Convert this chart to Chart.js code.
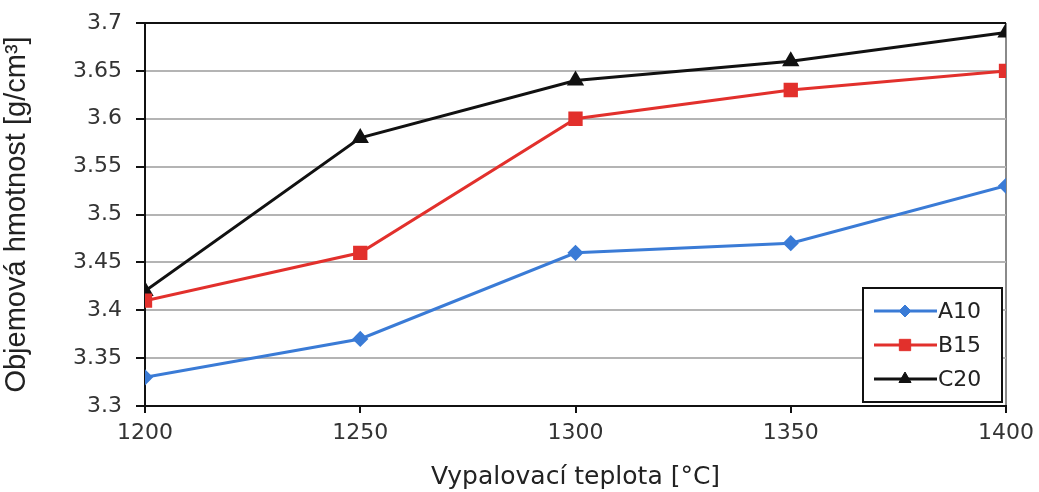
<!DOCTYPE html>
<html>
<head>
<meta charset="utf-8">
<script src="https://cdn.jsdelivr.net/npm/chart.js@4/dist/chart.umd.min.js"></script>
<style>
  html, body { margin: 0; padding: 0; background: #fff; }
  #wrap { width: 1039px; height: 492px; }
</style>
</head>
<body>
<div id="wrap"><canvas id="graf" width="1039" height="492"></canvas></div>
<script>
const teploty = [1200, 1250, 1300, 1350, 1400];
const a10 = [3.33, 3.37, 3.46, 3.47, 3.53];
const b15 = [3.41, 3.46, 3.60, 3.63, 3.65];
const c20 = [3.42, 3.58, 3.64, 3.66, 3.69];
const yTicky = [3.3, 3.35, 3.4, 3.45, 3.5, 3.55, 3.6, 3.65, 3.7];
const xTicky = [1200, 1250, 1300, 1350, 1400];

const FONT = "'Liberation Sans', Arial, sans-serif";
const FONT_SIROKY = "'DejaVu Sans', sans-serif";

function body(ys) {
  return teploty.map((t, i) => ({ x: t, y: ys[i] }));
}

// legenda v rámečku uvnitř grafu, vpravo dole
const legendaBox = {
  id: 'legendaBox',
  afterDraw(chart) {
    const ctx = chart.ctx;
    const x0 = 863, y0 = 288, w = 139, h = 114;
    ctx.save();
    ctx.fillStyle = '#fff';
    ctx.fillRect(x0, y0, w, h);
    ctx.strokeStyle = '#111';
    ctx.lineWidth = 2;
    ctx.strokeRect(x0, y0, w, h);
    chart.data.datasets.forEach((ds, i) => {
      const cy = y0 + 23 + i * 34;
      ctx.strokeStyle = ds.borderColor;
      ctx.lineWidth = 3;
      ctx.beginPath();
      ctx.moveTo(874, cy);
      ctx.lineTo(937, cy);
      ctx.stroke();
      ctx.fillStyle = ds.backgroundColor;
      ctx.strokeStyle = ds.borderColor;
      ctx.lineWidth = 1;
      Chart.helpers.drawPoint(ctx, {
        pointStyle: ds.pointStyle, radius: ds.pointRadius, rotation: 0, borderWidth: 1
      }, 905, cy);
      ctx.fillStyle = '#222';
      ctx.font = '22px ' + FONT_SIROKY;
      ctx.textBaseline = 'middle';
      ctx.fillText(ds.label, 938, cy + 1);
    });
    ctx.restore();
  }
};

new Chart(document.getElementById('graf'), {
  type: 'line',
  data: {
    datasets: [
      { label: 'A10', data: body(a10), borderColor: '#3a7bd6', backgroundColor: '#3a7bd6',
        borderWidth: 3, pointStyle: 'rectRot', pointRadius: 6 },
      { label: 'B15', data: body(b15), borderColor: '#e2302c', backgroundColor: '#e2302c',
        borderWidth: 3, pointStyle: 'rect', pointRadius: 8 },
      { label: 'C20', data: body(c20), borderColor: '#111111', backgroundColor: '#111111',
        borderWidth: 3, pointStyle: 'triangle', pointRadius: 7 }
    ]
  },
  options: {
    responsive: false,
    animation: false,
    layout: { padding: { left: 0, right: 33, top: 23, bottom: 0 } },
    plugins: {
      legend: { display: false },
      tooltip: { enabled: false }
    },
    scales: {
      x: {
        type: 'linear',
        min: 1200,
        max: 1400,
        afterBuildTicks: s => { s.ticks = xTicky.map(v => ({ value: v })); },
        afterFit: s => { s.height = 86; s.paddingLeft = 0; s.paddingRight = 0; },
        border: { color: '#111', width: 2 },
        grid: {
          color: c => c.index === xTicky.length - 1 ? '#8a8a8a' : 'rgba(0,0,0,0)',
          lineWidth: 2,
          tickColor: '#111',
          tickLength: 7
        },
        ticks: {
          color: '#333',
          font: { family: FONT_SIROKY, size: 22 },
          padding: 7,
          maxRotation: 0,
          callback: v => String(v)
        },
        title: {
          display: true,
          text: 'Vypalovací teplota [°C]',
          color: '#222',
          font: { family: FONT_SIROKY, size: 25 },
          padding: { top: 12, bottom: 0 }
        }
      },
      y: {
        min: 3.3,
        max: 3.7,
        afterBuildTicks: s => { s.ticks = yTicky.map(v => ({ value: v })); },
        afterFit: s => { s.width = 145; s.paddingTop = 0; s.paddingBottom = 0; },
        border: { color: '#111', width: 2 },
        grid: {
          color: c => c.tick && c.tick.value === 3.7 ? '#111' : '#b4b4b4',
          lineWidth: 2,
          tickColor: '#111',
          tickLength: 9
        },
        ticks: {
          color: '#333',
          font: { family: FONT_SIROKY, size: 22 },
          padding: 14,
          callback: v => String(parseFloat(v.toFixed(2)))
        },
        title: {
          display: true,
          text: 'Objemová hmotnost [g/cm³]',
          color: '#222',
          font: { family: FONT, size: 29 },
          padding: { top: 0, bottom: 0 }
        }
      }
    }
  },
  plugins: [legendaBox]
});
</script>
</body>
</html>
